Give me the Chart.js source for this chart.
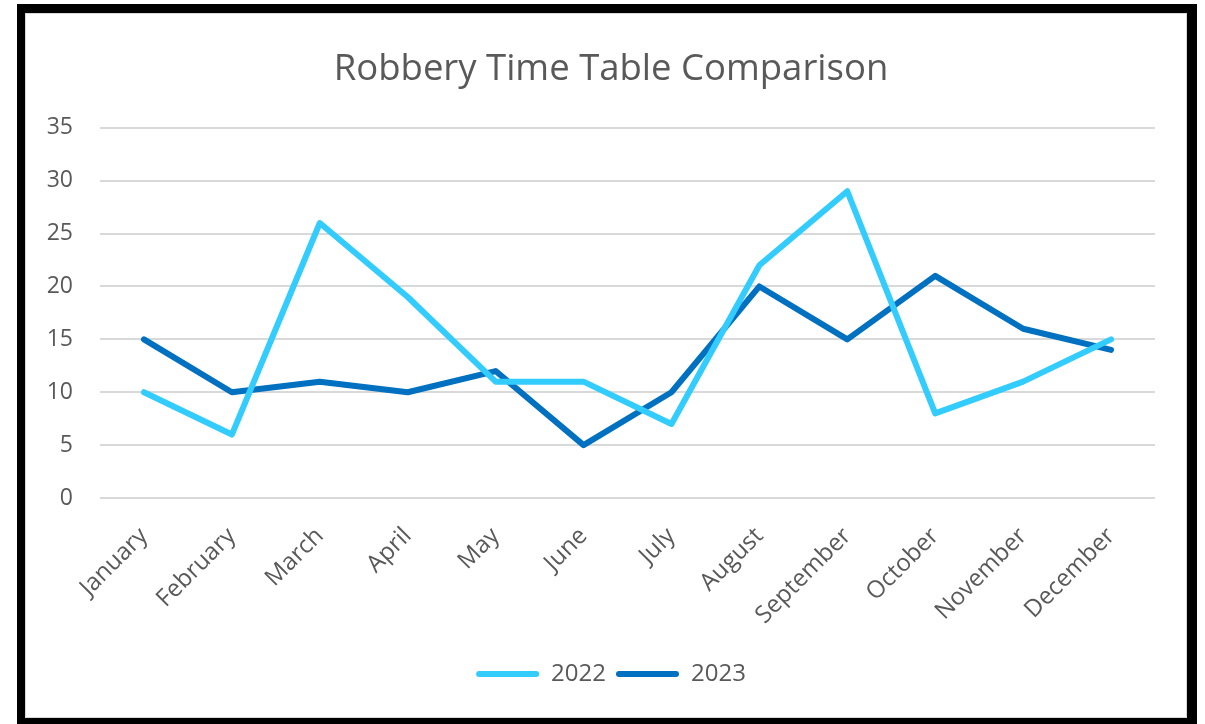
<!DOCTYPE html>
<html>
<head>
<meta charset="utf-8">
<script src="https://cdn.jsdelivr.net/npm/chart.js@4"></script>
<style>
  html, body { margin: 0; padding: 0; background: #ffffff; width: 1205px; height: 724px; overflow: hidden; }
  #frame {
    position: absolute; left: 17px; top: 4px;
    width: 1162px; height: 705px;
    border-left: 8px solid #000; border-top: 9px solid #000;
    border-right: 10px solid #000; border-bottom: 7px solid #000;
    background: #fff;
  }
  #inner { position: absolute; left: 0; top: 0; width: 1160px; height: 703px; border: 1px solid #d9d9d9; }
  canvas { display: block; }
</style>
</head>
<body>
<div id="frame"><div id="inner"><canvas id="c" width="1160" height="703"></canvas></div></div>
<script>
const months = ["January","February","March","April","May","June","July","August","September","October","November","December"];
const robberies2022 = [10, 6, 26, 19, 11, 11, 7, 22, 29, 8, 11, 15];
const robberies2023 = [15, 10, 11, 10, 12, 5, 10, 20, 15, 21, 16, 14];
const seriesNames = ["2022", "2023"];
const seriesColors = ["#33CCFF", "#0070C0"];
const chartTitle = "Robbery Time Table Comparison";

const FONT = "'Open Sans', 'Noto Sans', sans-serif";
const TEXT = "#595959";

new Chart(document.getElementById('c'), {
  type: 'line',
  data: {
    labels: months,
    datasets: [
      { label: seriesNames[0], data: robberies2022, borderColor: seriesColors[0], backgroundColor: seriesColors[0],
        borderWidth: 6, pointRadius: 0, pointHoverRadius: 0, tension: 0, borderCapStyle: 'round', borderJoinStyle: 'round' },
      { label: seriesNames[1], data: robberies2023, borderColor: seriesColors[1], backgroundColor: seriesColors[1],
        borderWidth: 6, pointRadius: 0, pointHoverRadius: 0, tension: 0, borderCapStyle: 'round', borderJoinStyle: 'round' }
    ]
  },
  options: {
    responsive: false,
    animation: false,
    layout: { padding: { left: 10, right: 0, top: 0, bottom: 21 } },
    plugins: {
      title: {
        display: true, text: chartTitle, color: TEXT,
        font: { family: FONT, size: 36.5, weight: 'normal', lineHeight: 1.2 },
        padding: { top: 34, bottom: 36 }
      },
      legend: {
        position: 'bottom',
        labels: {
          color: TEXT,
          font: { family: FONT, size: 24 },
          boxWidth: 63, boxHeight: 6,
          useBorderRadius: true, borderRadius: 3,
          padding: 10,
          generateLabels: (chart) => chart.data.datasets.map((ds, i) => ({
            text: ds.label, fillStyle: ds.borderColor, strokeStyle: ds.borderColor,
            lineWidth: 0, hidden: false, datasetIndex: i, borderRadius: 3, fontColor: TEXT
          }))
        }
      },
      tooltip: { enabled: false }
    },
    scales: {
      x: {
        offset: true,
        grid: { display: false },
        border: { display: false },
        ticks: { color: TEXT, font: { family: FONT, size: 24 }, minRotation: 45, maxRotation: 45, padding: 16 },
        afterFit: (s) => { s.height = 154; }
      },
      y: {
        min: 0, max: 35,
        grid: { color: '#d9d9d9', lineWidth: 2, drawTicks: false },
        border: { display: false },
        ticks: { stepSize: 5, color: TEXT, font: { family: FONT, size: 23 }, padding: 27 },
        afterFit: (s) => { s.width = 64; }
      },
      yRight: {
        type: 'linear', position: 'right', display: true,
        grid: { display: false, drawTicks: false },
        border: { display: false },
        ticks: { display: false },
        afterFit: (s) => { s.width = 31; }
      }
    }
  }
});
</script>
</body>
</html>
